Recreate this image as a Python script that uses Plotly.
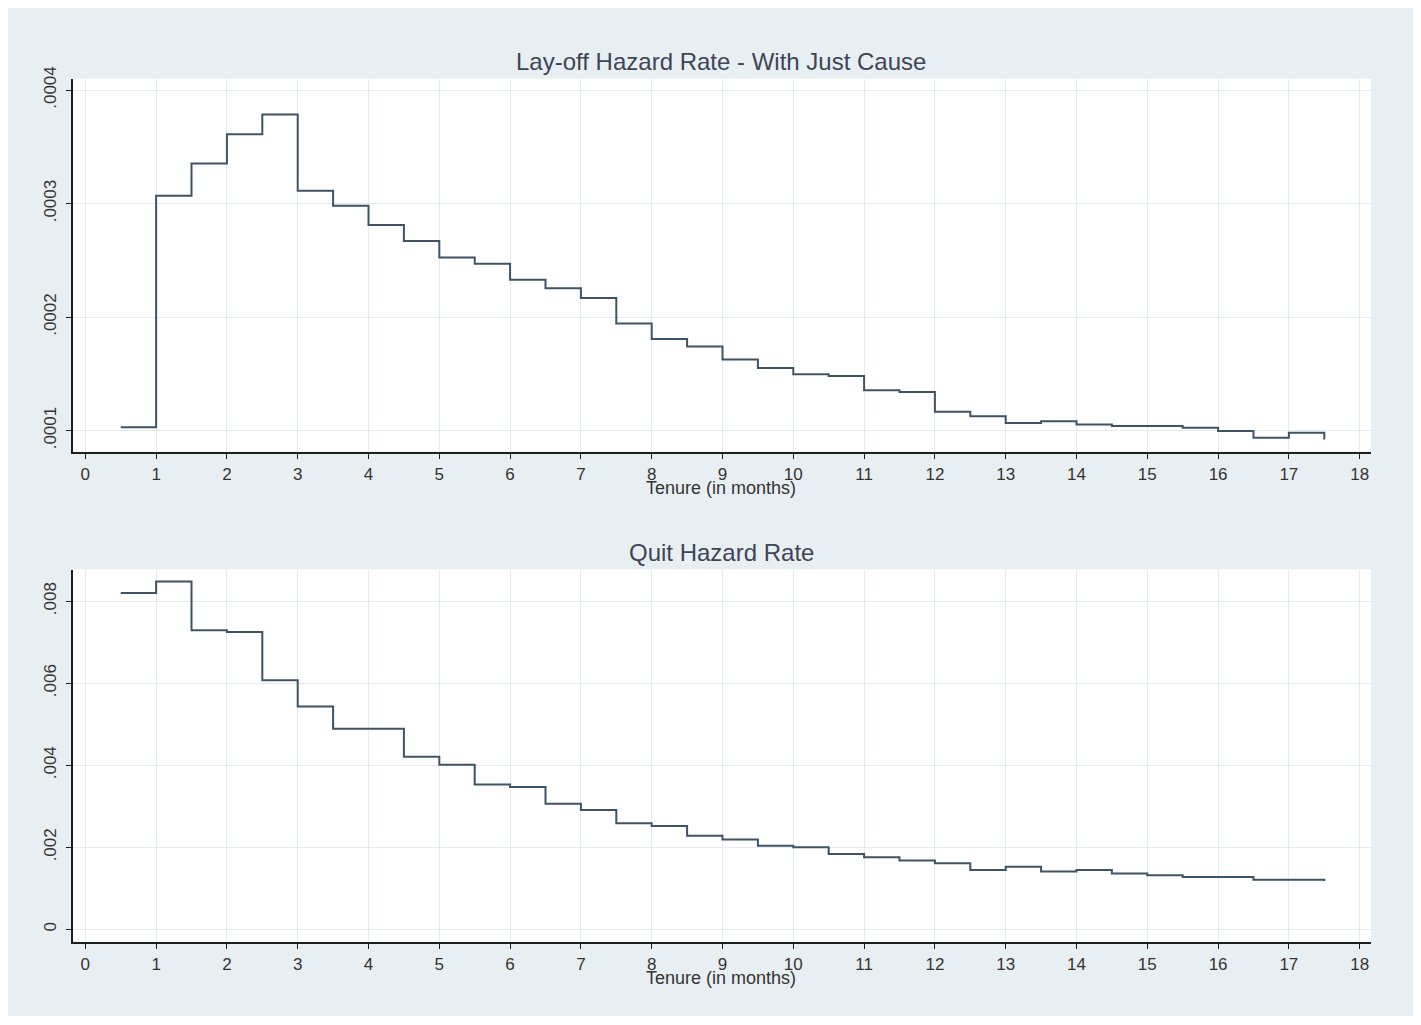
import plotly.graph_objects as go

# ---- data ----
tenure = [0.5, 1.0, 1.5, 2.0, 2.5, 3.0, 3.5, 4.0, 4.5, 5.0, 5.5, 6.0, 6.5, 7.0, 7.5,
          8.0, 8.5, 9.0, 9.5, 10.0, 10.5, 11.0, 11.5, 12.0, 12.5, 13.0, 13.5, 14.0,
          14.5, 15.0, 15.5, 16.0, 16.5, 17.0, 17.5]

layoff_hazard = [0.000103, 0.0003068, 0.0003352, 0.0003611, 0.0003784, 0.0003112,
                 0.000298, 0.0002812, 0.0002671, 0.0002524, 0.0002469, 0.0002328,
                 0.0002254, 0.0002169, 0.0001943, 0.0001808, 0.000174, 0.0001626,
                 0.0001552, 0.0001496, 0.0001482, 0.0001355, 0.0001341, 0.0001165,
                 0.0001126, 0.0001068, 0.0001082, 0.0001053, 0.0001041, 0.0001041,
                 0.0001026, 0.0000997, 0.0000938, 0.000098, 0.0000921]

quit_hazard = [0.00820, 0.00848, 0.00729, 0.00725, 0.00607, 0.00543, 0.00489, 0.00489,
               0.00421, 0.00401, 0.00353, 0.00347, 0.00306, 0.00291, 0.00259, 0.00252,
               0.00228, 0.00219, 0.00204, 0.00200, 0.00184, 0.00176, 0.00168, 0.00161,
               0.00145, 0.00153, 0.00141, 0.00145, 0.00136, 0.00132, 0.00128, 0.00128,
               0.00121, 0.00121, 0.00118]

x_ticks = list(range(0, 19))
layoff_yticks = [0.0001, 0.0002, 0.0003, 0.0004]
layoff_yticklabels = [".0001", ".0002", ".0003", ".0004"]
quit_yticks = [0, 0.002, 0.004, 0.006, 0.008]
quit_yticklabels = ["0", ".002", ".004", ".006", ".008"]

title_top = "Lay-off Hazard Rate - With Just Cause"
title_bottom = "Quit Hazard Rate"
x_title = "Tenure (in months)"

# ---- styling / geometry ----
OX, OY = 8, 20.5        # page offset of the figure inside the browser window
KY = 1025 / 1037        # vertical scale observed in the captured page
W, H = 1421 - 2 * OX, 1008
FONT = "Liberation Sans, Arial, sans-serif"
BG = "#e8eff2"
LINE = "#3e5365"
GRID = "#e4eaed"
TXT = "#333333"
TITLE_C = "#3f4457"


def px_x(p):
    return (p - OX) / W


def px_y(p):
    return 1 - (p / KY - OY) / H


x_dom = [px_x(73), px_x(1371)]
top_dom = [px_y(452), px_y(79)]
bot_dom = [px_y(942.3), px_y(570)]

fig = go.Figure()
fig.add_trace(go.Scatter(x=tenure, y=layoff_hazard, mode="lines", line_shape="hv",
                         line=dict(color=LINE, width=2), xaxis="x", yaxis="y",
                         showlegend=False, hoverinfo="x+y"))
fig.add_trace(go.Scatter(x=tenure, y=quit_hazard, mode="lines", line_shape="hv",
                         line=dict(color=LINE, width=2), xaxis="x2", yaxis="y2",
                         showlegend=False, hoverinfo="x+y"))

xax = dict(domain=x_dom, range=[-0.174, 18.16], tickmode="array", tickvals=x_ticks,
           ticktext=[str(v) for v in x_ticks], showgrid=True, gridcolor=GRID, gridwidth=1,
           showline=True, linecolor="#1e1e1e", linewidth=1.5, ticks="outside", ticklen=6,
           tickcolor="#1e1e1e", tickwidth=1.3, zeroline=False,
           tickfont=dict(family=FONT, size=17, color=TXT), fixedrange=True)
yax = dict(showgrid=True, gridcolor=GRID, gridwidth=1, showline=True, linecolor="#1e1e1e",
           linewidth=1.5, ticks="outside", ticklen=5, tickcolor="#1e1e1e", tickwidth=1.3,
           zeroline=False, tickangle=-90, tickmode="array", ticklabelstandoff=3,
           tickfont=dict(family=FONT, size=17, color=TXT), fixedrange=True)

fig.update_layout(
    width=W, height=H,
    margin=dict(l=0, r=0, t=0, b=0),
    paper_bgcolor=BG,
    plot_bgcolor="rgba(0,0,0,0)",
    xaxis=dict(**xax, anchor="y"),
    xaxis2=dict(**xax, anchor="y2"),
    yaxis=dict(**yax, domain=top_dom, range=[0.0000815, 0.00041], anchor="x",
               tickvals=layoff_yticks, ticktext=layoff_yticklabels),
    yaxis2=dict(**yax, domain=bot_dom, range=[-0.0003, 0.00877], anchor="x2",
                tickvals=quit_yticks, ticktext=quit_yticklabels),
    shapes=[
        dict(type="rect", xref="paper", yref="paper", x0=px_x(5), x1=px_x(1411),
             y0=px_y(1024), y1=px_y(5), fillcolor=BG, line=dict(width=0), layer="below"),
        dict(type="rect", xref="paper", yref="paper", x0=x_dom[0], x1=x_dom[1],
             y0=top_dom[0], y1=top_dom[1], fillcolor="white", line=dict(width=0), layer="below"),
        dict(type="rect", xref="paper", yref="paper", x0=x_dom[0], x1=x_dom[1],
             y0=bot_dom[0], y1=bot_dom[1], fillcolor="white", line=dict(width=0), layer="below"),
    ],
    annotations=[
        dict(text=title_top, xref="paper", yref="paper", x=px_x(721), y=px_y(62),
             showarrow=False, xanchor="center", yanchor="middle",
             font=dict(family=FONT, size=24, color=TITLE_C)),
        dict(text=title_bottom, xref="paper", yref="paper", x=px_x(721), y=px_y(553),
             showarrow=False, xanchor="center", yanchor="middle",
             font=dict(family=FONT, size=24, color=TITLE_C)),
        dict(text=x_title, xref="paper", yref="paper", x=px_x(721), y=px_y(488),
             showarrow=False, xanchor="center", yanchor="middle",
             font=dict(family=FONT, size=18, color=TXT)),
        dict(text=x_title, xref="paper", yref="paper", x=px_x(721), y=px_y(979),
             showarrow=False, xanchor="center", yanchor="middle",
             font=dict(family=FONT, size=18, color=TXT)),
    ],
)

fig.write_html("out.html")
